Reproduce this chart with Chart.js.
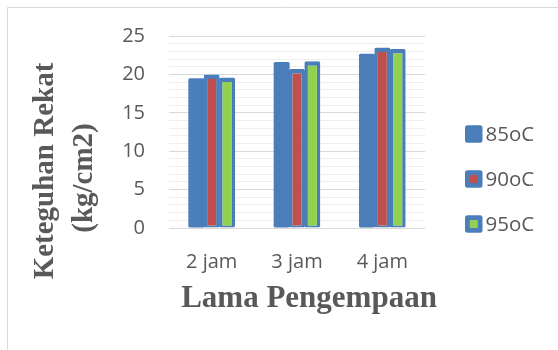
<!DOCTYPE html>
<html>
<head>
<meta charset="utf-8">
<script src="https://cdn.jsdelivr.net/npm/chart.js@4/dist/chart.umd.min.js"></script>
<style>
  html, body { margin: 0; padding: 0; background: #ffffff; }
  #wrap { width: 558px; height: 350px; }
</style>
</head>
<body>
<div id="wrap"><canvas id="c" width="558" height="350"></canvas></div>
<script>
// Bond strength by pressing time at three pressing temperatures
const categories = ['2 jam', '3 jam', '4 jam'];
const seriesNames = ['85oC', '90oC', '95oC'];
const s85 = [19.5, 21.6, 22.7];
const s90 = [20.0, 20.7, 23.5];
const s95 = [19.6, 21.7, 23.3];
const yTicks = [0, 5, 10, 15, 20, 25];
const yTitleLines = ['Keteguhan Rekat', '(kg/cm2)'];
const xTitle = 'Lama Pengempaan';

const fills = ['#4a7ebb', '#c0504d', '#92d050'];
const edge = '#4a7ebb';
const textGrey = '#595959';
const sans = '"Open Sans", "Noto Sans", sans-serif';
const serif = '"Liberation Serif", "DejaVu Serif", serif';

const seriesValues = [s85, s90, s95];

// Outer frame, axis titles and the side legend
const decorations = {
  id: 'decorations',
  beforeDraw(chart) {
    const ctx = chart.ctx;
    ctx.save();
    ctx.fillStyle = '#ffffff';
    ctx.fillRect(0, 0, chart.width, chart.height);
    ctx.strokeStyle = '#d9d9d9';
    ctx.lineWidth = 1;
    ctx.beginPath();
    ctx.moveTo(7.5, chart.height + 5);
    ctx.lineTo(7.5, 7.5);
    ctx.lineTo(chart.width + 5, 7.5);
    ctx.stroke();
    ctx.restore();
  },
  afterDraw(chart) {
    const ctx = chart.ctx;
    ctx.save();
    ctx.fillStyle = textGrey;

    // y axis title, two rotated lines
    ctx.font = 'bold 29px ' + serif;
    ctx.textAlign = 'center';
    ctx.textBaseline = 'alphabetic';
    const yLineX = [53, 92];
    const yLineMid = [171, 178];
    yTitleLines.forEach((line, i) => {
      ctx.save();
      ctx.translate(yLineX[i], yLineMid[i]);
      ctx.rotate(-Math.PI / 2);
      ctx.fillText(line, 0, 0);
      ctx.restore();
    });

    // x axis title
    ctx.font = 'bold 31px ' + serif;
    ctx.fillText(xTitle, 309, 307);

    // legend
    const boxX = 465, box = 17.5, inner = 8;
    const rowY = [134, 179, 224];
    ctx.font = '20.5px ' + sans;
    ctx.textAlign = 'left';
    ctx.textBaseline = 'middle';
    chart.data.datasets.forEach((ds, i) => {
      const y = rowY[i];
      ctx.fillStyle = ds.borderColor;
      ctx.beginPath();
      ctx.roundRect(boxX, y - box / 2, box, box, 2.5);
      ctx.fill();
      ctx.fillStyle = ds.backgroundColor;
      ctx.fillRect(boxX + (box - inner) / 2, y - inner / 2, inner, inner);
      ctx.fillStyle = textGrey;
      ctx.fillText(ds.label, 485.5, y + 1);
    });
    ctx.restore();
  }
};

// the first series is solid blue, so it needs no separate outline
const outline = { top: 4.5, left: 3.5, right: 3.5, bottom: 2 };

new Chart(document.getElementById('c'), {
  type: 'bar',
  data: {
    labels: categories,
    datasets: seriesNames.map((name, i) => ({
      label: name,
      data: seriesValues[i],
      backgroundColor: fills[i],
      borderColor: edge,
      borderWidth: i === 0 ? 0 : outline,
      borderSkipped: false,
      borderRadius: 1.5,
      categoryPercentage: 0.54,
      barPercentage: 1.04
    }))
  },
  options: {
    responsive: false,
    animation: false,
    devicePixelRatio: 1,
    layout: { padding: { left: 100, right: 133, top: 36, bottom: 0 } },
    plugins: {
      legend: { display: false },
      tooltip: { enabled: false },
      title: { display: false }
    },
    scales: {
      x: {
        grid: { display: false },
        border: { display: false },
        ticks: { color: textGrey, font: { family: sans, size: 20 }, padding: 14 },
        afterFit(scale) { scale.height = 122; }
      },
      y: {
        min: 0,
        max: 25,
        border: { display: false },
        grid: {
          drawTicks: false,
          lineWidth: 1,
          color: c => (yTicks.includes(c.tick.value) ? '#d9d9d9' : '#efefef')
        },
        ticks: {
          stepSize: 1,
          autoSkip: false,
          padding: 24,
          color: textGrey,
          font: { family: sans, size: 20 },
          callback: v => (yTicks.includes(v) ? String(v) : '')
        },
        afterFit(scale) { scale.width = 69; }
      }
    }
  },
  plugins: [decorations]
});
</script>
</body>
</html>
